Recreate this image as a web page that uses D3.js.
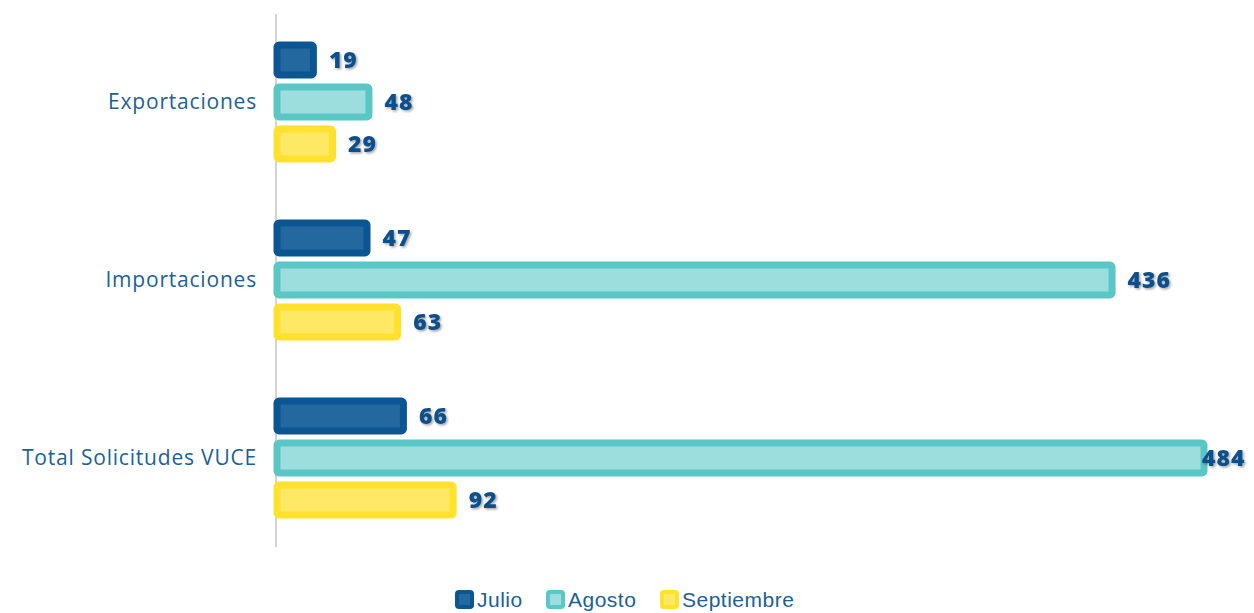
<!DOCTYPE html>
<html>
<head>
<meta charset="utf-8">
<script src="https://cdn.jsdelivr.net/npm/d3@7"></script>
<style>
  body { margin: 0; background: #fff; }
  svg { display: block; }
</style>
</head>
<body>
<div id="chart"></div>
<script>
// data
var categories = ["Exportaciones", "Importaciones", "Total Solicitudes VUCE"];
var seriesNames = ["Julio", "Agosto", "Septiembre"];
var julio = [19, 47, 66];
var agosto = [48, 436, 484];
var septiembre = [29, 63, 92];

var outerColors = ["#0b5592", "#5bc6c6", "#ffe12e"];
var innerColors = ["#23689f", "#9cdedd", "#ffe864"];

var width = 1254, height = 613;

var svg = d3.select("#chart").append("svg")
    .attr("width", width)
    .attr("height", height);

// soft shadow for the value labels
var defs = svg.append("defs");
var shadow = defs.append("filter").attr("id", "shadow")
    .attr("x", "-20%").attr("y", "-20%").attr("width", "140%").attr("height", "140%");
shadow.append("feDropShadow")
    .attr("dx", 1.5).attr("dy", 1.5).attr("stdDeviation", 0.8)
    .attr("flood-color", "#000").attr("flood-opacity", 0.35);

var table = categories.map(function(c, i) {
    return {
        cat: c,
        values: [julio[i], agosto[i], septiembre[i]].map(function(v, j) {
            return { series: j, value: v };
        })
    };
});

var yGroup = d3.scaleBand()
    .domain(categories)
    .range([13, 547])
    .padding(0);

var yInner = d3.scaleBand()
    .domain(d3.range(seriesNames.length))
    .range([26, 152])
    .paddingInner(0.12)
    .paddingOuter(0.06);

var xScale = d3.scaleLinear()
    .domain([0, 484])
    .range([277, 1204]);

var sw = 7;

// axis line
svg.append("line")
    .attr("x1", 276).attr("x2", 276)
    .attr("y1", 14).attr("y2", 547)
    .attr("stroke", "#d4d4d4")
    .attr("stroke-width", 2);

var groups = svg.append("g").selectAll("g")
    .data(table)
    .enter()
    .append("g")
    .attr("transform", d => `translate(0, ${yGroup(d.cat)})`);

groups.selectAll("rect")
    .data(d => d.values)
    .enter()
    .append("rect")
    .attr("x", xScale(0))
    .attr("y", d => yInner(d.series) + sw / 2)
    .attr("width", d => xScale(d.value) - xScale(0))
    .attr("height", yInner.bandwidth() - sw)
    .attr("rx", 2)
    .attr("fill", d => innerColors[d.series])
    .attr("stroke", d => outerColors[d.series])
    .attr("stroke-width", sw)
    .attr("stroke-linejoin", "round");

groups.selectAll("text.val")
    .data(d => d.values)
    .enter()
    .append("text")
    .attr("class", "val")
    .attr("x", d => Math.min(xScale(d.value) + sw / 2 + 12, 1202))
    .attr("y", d => yInner(d.series) + yInner.bandwidth() / 2 + 8)
    .attr("fill", "#0c4f8a")
    .attr("font-family", "'Open Sans', sans-serif")
    .attr("font-weight", 800)
    .attr("font-size", "23px")
    .attr("letter-spacing", "1px")
    .attr("filter", "url(#shadow)")
    .text(d => d.value);

// category labels
svg.append("g").selectAll("text")
    .data(categories)
    .enter()
    .append("text")
    .attr("x", 257)
    .attr("y", d => yGroup(d) + yGroup.bandwidth() / 2 + 7)
    .attr("text-anchor", "end")
    .attr("fill", "#1d5f96")
    .attr("font-family", "'Open Sans', sans-serif")
    .attr("font-size", "21px")
    .attr("letter-spacing", "0.8px")
    .text(d => d);

// legend
var legendX = [455, 546, 660];
var legend = svg.append("g").selectAll("g")
    .data(seriesNames)
    .enter()
    .append("g")
    .attr("transform", (d, i) => `translate(${legendX[i]}, 590)`);

legend.append("rect")
    .attr("x", 2).attr("y", 2)
    .attr("width", 15).attr("height", 15)
    .attr("rx", 2)
    .attr("fill", (d, i) => innerColors[i])
    .attr("stroke", (d, i) => outerColors[i])
    .attr("stroke-width", 4);

legend.append("text")
    .attr("x", 22)
    .attr("y", 17)
    .attr("fill", "#1d5f96")
    .attr("font-family", "'Liberation Sans', sans-serif")
    .attr("font-size", "21px")
    .attr("letter-spacing", "0.5px")
    .text(d => d);
</script>
</body>
</html>
